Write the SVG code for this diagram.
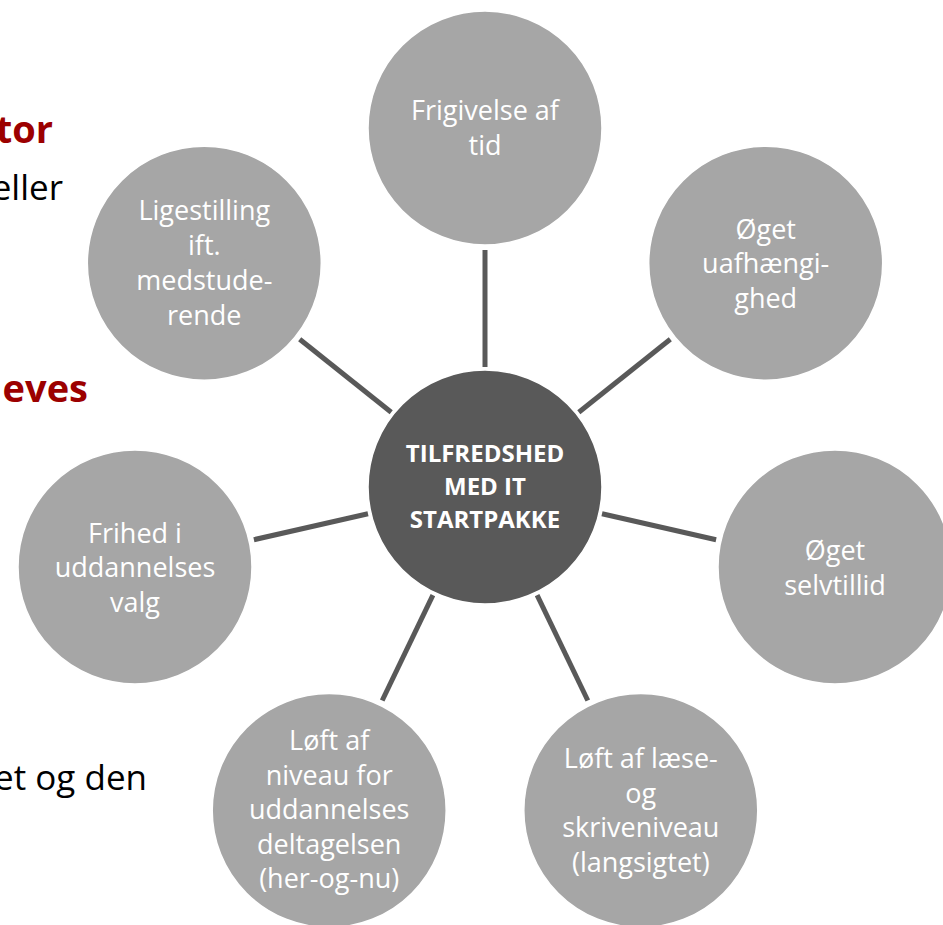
<svg xmlns="http://www.w3.org/2000/svg" width="943" height="925" viewBox="0 0 943 925">
<style>
.bg{fill:#ffffff}
.outer{fill:#A6A6A6;stroke:#ffffff;stroke-width:1.5}
.center{fill:#595959;stroke:#ffffff;stroke-width:1.5}
.lbl{font-family:"Open Sans","Liberation Sans",sans-serif;font-size:27px;fill:#ffffff;text-anchor:middle}
.clbl{font-family:"Open Sans","Liberation Sans",sans-serif;font-size:24px;font-weight:bold;fill:#ffffff;text-anchor:middle}
.conn line{stroke:#595959;stroke-width:5}
.side{font-family:"Open Sans","Liberation Sans",sans-serif;font-size:35px;fill:#000000;text-anchor:end}
.sideRed{font-family:"Open Sans","Liberation Sans",sans-serif;font-size:38px;font-weight:bold;fill:#9C0000;text-anchor:end}
</style>
<rect class="bg" x="0" y="0" width="943" height="925"/>
<g id="side-text">
<text class="sideRed" x="53" y="143">tor</text>
<text class="side" x="63" y="200">eller</text>
<text class="sideRed" x="88" y="402">eves</text>
<text class="side" x="147" y="790">et og den</text>
</g>
<g id="connectors" class="conn">
<line x1="485" y1="367" x2="485" y2="250"/>
<line x1="578.8" y1="412.2" x2="670.3" y2="339.2"/>
<line x1="602" y1="513.7" x2="716.1" y2="539.7"/>
<line x1="537.1" y1="595.1" x2="587.8" y2="700.5"/>
<line x1="432.9" y1="595.1" x2="382.2" y2="700.5"/>
<line x1="368" y1="513.7" x2="253.9" y2="539.7"/>
<line x1="391.2" y1="412.2" x2="299.7" y2="339.2"/>
</g>
<g id="n-center">
<circle class="center" cx="485" cy="487" r="117"/>
<text class="clbl"><tspan x="485" y="462">TILFREDSHED</tspan><tspan x="485" y="495">MED IT</tspan><tspan x="485" y="528">STARTPAKKE</tspan></text>
</g>
<g id="n-frigivelse">
<circle class="outer" cx="485" cy="128" r="117"/>
<text class="lbl"><tspan x="485" y="120">Frigivelse af</tspan><tspan x="485" y="155">tid</tspan></text>
</g>
<g id="n-uafhaengighed">
<circle class="outer" cx="765.7" cy="263.2" r="117"/>
<text class="lbl"><tspan x="765.7" y="238.5">Øget</tspan><tspan x="765.7" y="273">uafhængi-</tspan><tspan x="765.7" y="307.5">ghed</tspan></text>
</g>
<g id="n-selvtillid">
<circle class="outer" cx="835" cy="566.9" r="117"/>
<text class="lbl"><tspan x="835" y="560">Øget</tspan><tspan x="835" y="594.5">selvtillid</tspan></text>
</g>
<g id="n-laese">
<circle class="outer" cx="640.8" cy="810.5" r="117"/>
<text class="lbl"><tspan x="640.8" y="768">Løft af læse-</tspan><tspan x="640.8" y="802.5">og</tspan><tspan x="640.8" y="837">skriveniveau</tspan><tspan x="640.8" y="871.5">(langsigtet)</tspan></text>
</g>
<g id="n-niveau">
<circle class="outer" cx="329.2" cy="810.5" r="117"/>
<text class="lbl"><tspan x="329.2" y="750">Løft af</tspan><tspan x="329.2" y="784.5">niveau for</tspan><tspan x="329.2" y="819">uddannelses</tspan><tspan x="329.2" y="853.5">deltagelsen</tspan><tspan x="329.2" y="888">(her-og-nu)</tspan></text>
</g>
<g id="n-frihed">
<circle class="outer" cx="135" cy="566.9" r="117"/>
<text class="lbl"><tspan x="135" y="542.5">Frihed i</tspan><tspan x="135" y="577">uddannelses</tspan><tspan x="135" y="611.5">valg</tspan></text>
</g>
<g id="n-ligestilling">
<circle class="outer" cx="204.3" cy="263.2" r="117"/>
<text class="lbl"><tspan x="204.3" y="220">Ligestilling</tspan><tspan x="204.3" y="255">ift.</tspan><tspan x="204.3" y="290">medstude-</tspan><tspan x="204.3" y="325">rende</tspan></text>
</g>
</svg>
